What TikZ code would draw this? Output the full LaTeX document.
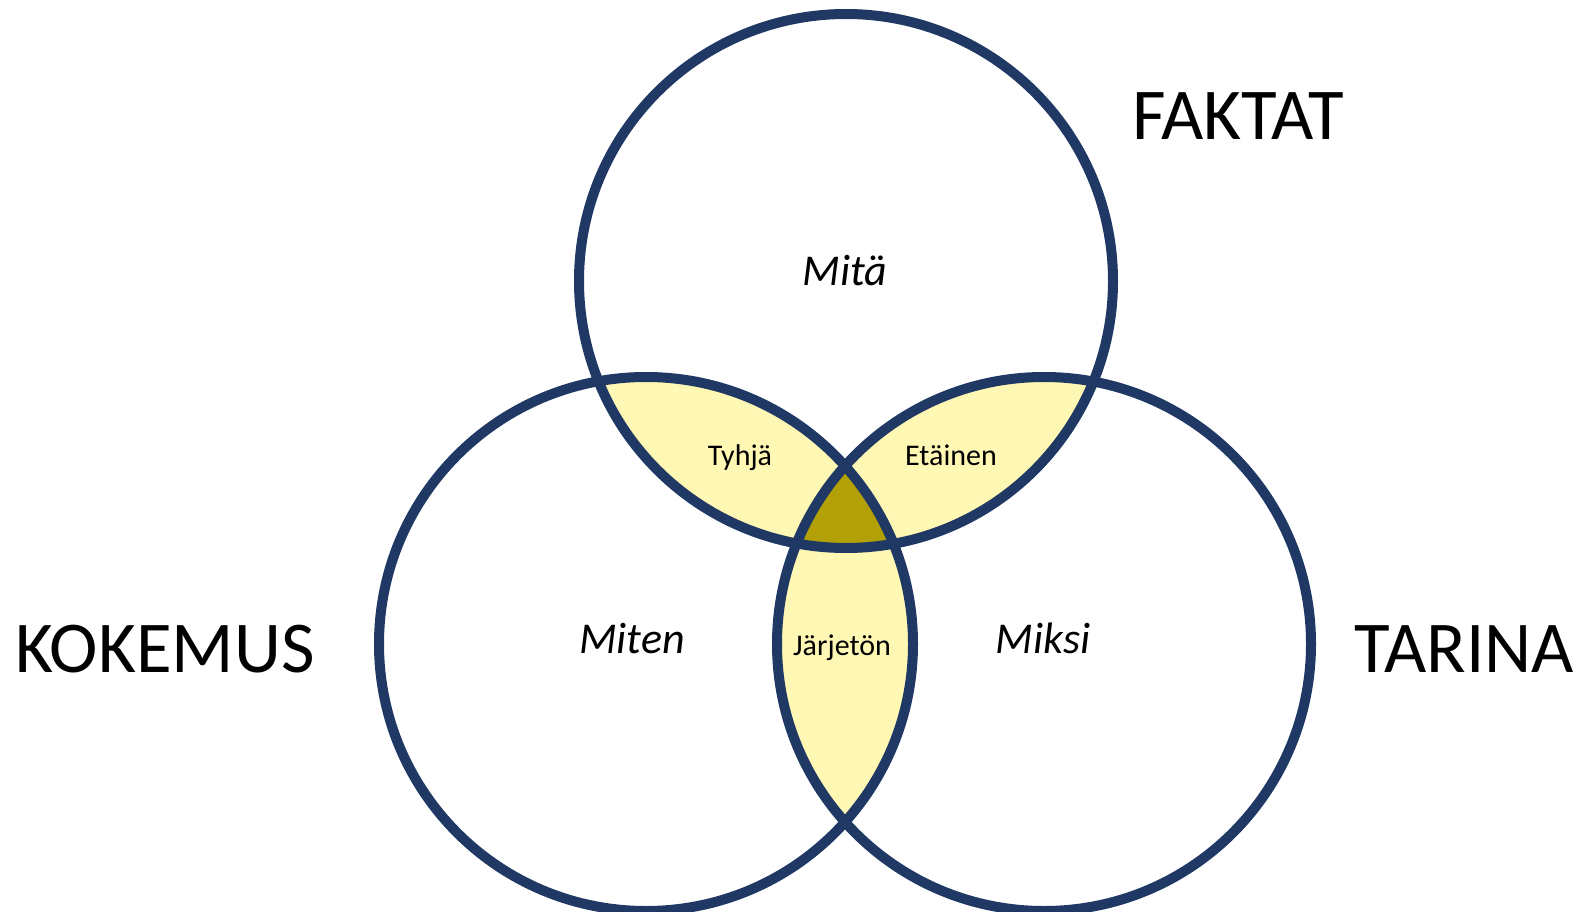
\documentclass[tikz,border=0pt]{standalone}
\usepackage{fontspec}
\setmainfont{Carlito}
\definecolor{ringblue}{RGB}{31,56,100}
\definecolor{paleyellow}{RGB}{255,247,180}
\definecolor{olive}{RGB}{178,160,6}

\begin{document}
\begin{tikzpicture}[x=1pt, y=-1pt,
    ring/.style={draw=ringblue, line width=10pt},
    bigword/.style={anchor=base, font=\fontsize{73}{80}\selectfont},
    question/.style={anchor=base, font=\fontsize{44}{50}\selectfont\itshape},
    overlap/.style={anchor=base, font=\fontsize{30}{36}\selectfont}]
  \useasboundingbox (0,0) rectangle (1583,912);
  % keskipisteet ja säde
  \def\R{267}
  \coordinate (F) at (846, 281);
  \coordinate (K) at (646, 644);
  \coordinate (T) at (1044, 644);

  % pareittaiset leikkaukset
  \begin{scope}
    \clip (F) circle (\R);
    \fill[paleyellow] (K) circle (\R);
    \fill[paleyellow] (T) circle (\R);
  \end{scope}
  \begin{scope}
    \clip (K) circle (\R);
    \fill[paleyellow] (T) circle (\R);
  \end{scope}
  % kolmen ympyrän leikkaus
  \begin{scope}
    \clip (F) circle (\R);
    \clip (K) circle (\R);
    \fill[olive] (T) circle (\R);
  \end{scope}

  \draw[ring] (F) circle (\R);
  \draw[ring] (K) circle (\R);
  \draw[ring] (T) circle (\R);

  \node[bigword] (faktat) at (1238, 140) {FAKTAT};
  \node[bigword] (kokemus) at (165, 672) {KOKEMUS};
  \node[bigword] (tarina) at (1464, 672) {TARINA};

  \node[question] (mita) at (845, 285) {Mitä};
  \node[question] (miten) at (632, 653) {Miten};
  \node[question] (miksi) at (1043, 653) {Miksi};

  \node[overlap] (tyhja) at (740, 465) {Tyhjä};
  \node[overlap] (etainen) at (951, 465) {Etäinen};
  \node[overlap] (jarjeton) at (842, 655) {Järjetön};
\end{tikzpicture}
\end{document}
